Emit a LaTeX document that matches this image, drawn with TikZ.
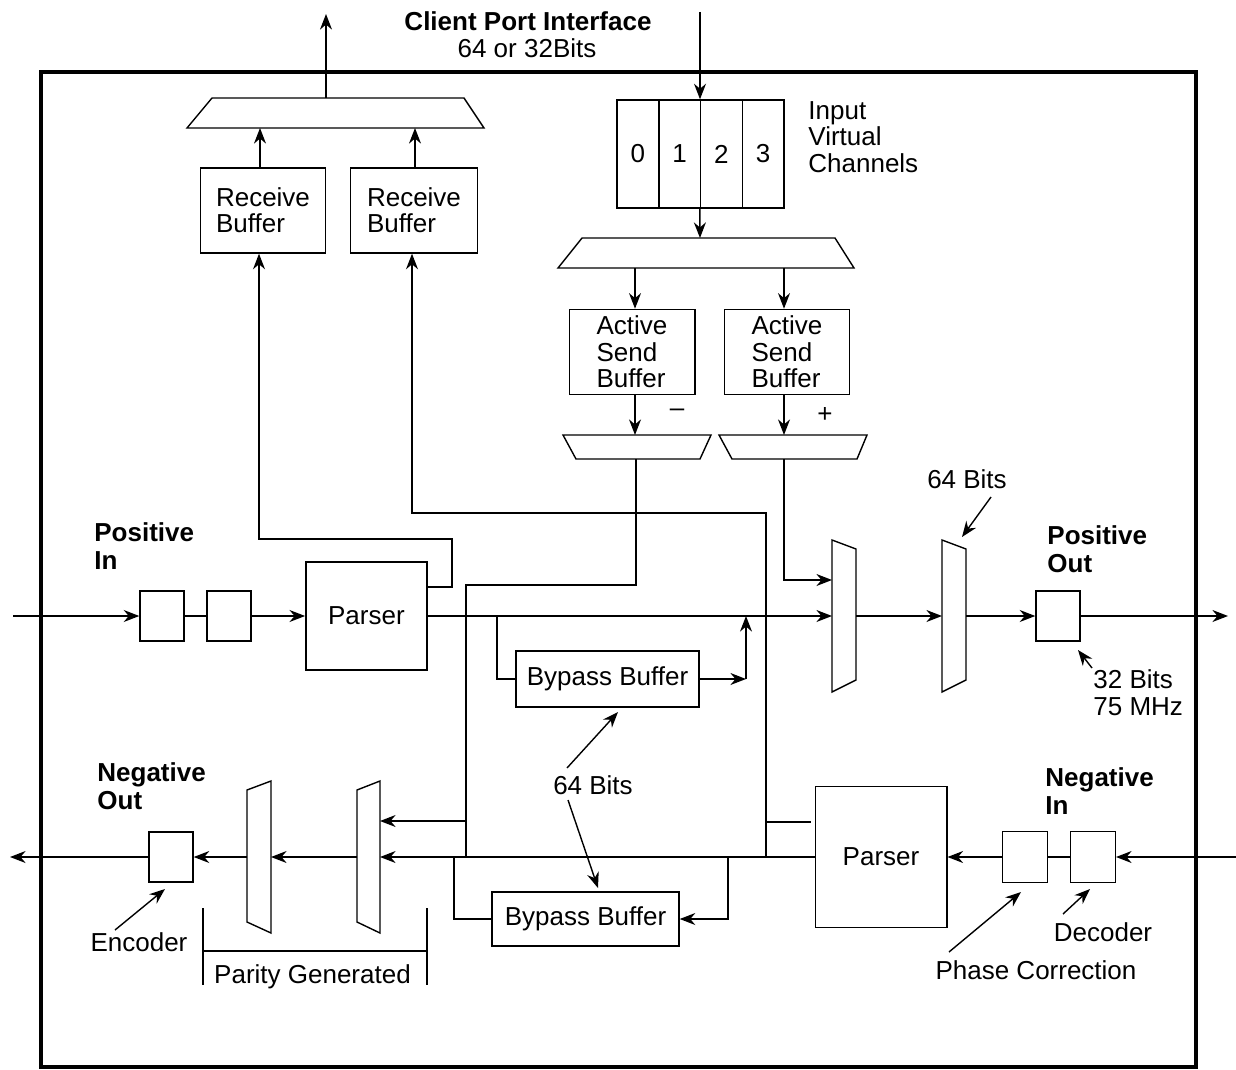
\documentclass[tikz,border=0pt]{standalone}
\usepackage{fontspec}
\setmainfont{Liberation Sans}
\usepackage{tikz}
\usetikzlibrary{arrows.meta,positioning,calc}
\tikzset{
  font=\fontsize{13}{13.2}\selectfont,
  box/.style  ={draw, line width=0.7pt, inner sep=0pt, align=left},
  reg/.style  ={box, minimum width=22pt, minimum height=25pt},
  cell/.style ={box, minimum width=20.9pt, minimum height=54pt},
  mux/.style  ={draw, line width=0.7pt},
  wire/.style ={line width=0.7pt},
  arr/.style  ={-{Stealth[length=7.8pt,width=6pt]}, line width=0.7pt},
  lbl/.style  ={font=\fontsize{13}{14}\selectfont\bfseries, align=left, inner sep=0pt},
  note/.style ={align=left, inner sep=0pt},
}

\begin{document}
\begin{tikzpicture}[x=0.5pt, y=-0.5pt]
  \useasboundingbox (0,0) rectangle (1236,1070);
  % chip outline
  \draw[line width=2pt] (41,72) rectangle (1196,1067);

  % client port interface
  \node[lbl] (cpi) at (528,21) {Client Port Interface};
  \node[note] (cpw) at (527,48) {64 or 32Bits};
  \coordinate (cpout) at (326,14);
  \coordinate (cpin)  at (700,12);

  % receive side
  \draw[mux] (212,98) -- (464,98) -- (484,128) -- (187,128) -- cycle;
  \coordinate (rmux)  at (326,98);
  \coordinate (rmux1) at (260,128);
  \coordinate (rmux2) at (415,128);
  \node[box, minimum width=62.5pt, minimum height=42.5pt] (rb1) at (263,210.5) {Receive\\Buffer};
  \node[box, minimum width=63.5pt, minimum height=42.5pt] (rb2) at (414,210.5) {Receive\\Buffer};
  \draw[arr] (rmux) -- (cpout);
  \draw[arr] (rb1.north -| rmux1) -- (rmux1);
  \draw[arr] (rb2.north -| rmux2) -- (rmux2);

  % send side
  \foreach \i in {0,...,3}
    \node[cell] (vc\i) at (637.9+41.75*\i,154) {\i};
  \node[note, anchor=west] (vcl) at (808,137) {Input\\Virtual\\Channels};
  \draw[mux] (582,238) -- (835,238) -- (854,268) -- (558,268) -- cycle;
  \coordinate (smuxin) at (700,238);
  \coordinate (smux1)  at (635,268);
  \coordinate (smux2)  at (784,268);
  \draw[arr] (cpin) -- (cpin |- vc2.north);
  \draw[arr] (vc2.south west) -- (smuxin);
  \node[box, minimum width=62.8pt, minimum height=42.6pt] (asb1) at (632,352) {Active\\Send\\Buffer};
  \node[box, minimum width=62.6pt, minimum height=42.6pt] (asb2) at (787,352) {Active\\Send\\Buffer};
  \draw[arr] (smux1) -- (smux1 |- asb1.north);
  \draw[arr] (smux2) -- (smux2 |- asb2.north);
  \draw[mux] (563,435) -- (711,435) -- (700,459) -- (576,459) -- cycle;
  \draw[mux] (719,435) -- (867,435) -- (857,459) -- (732,459) -- cycle;
  \coordinate (mmuxi) at (635,435);
  \coordinate (pmuxi) at (784,435);
  \coordinate (mmuxo) at (636,459);
  \coordinate (pmuxo) at (784,459);
  \draw[arr] (asb1.south -| mmuxi) -- (mmuxi);
  \draw[arr] (asb2.south -| pmuxi) -- (pmuxi);
  \node[note] (minus) at (677,413) {\textendash};
  \node[note] (plus)  at (825,415) {+};

  % positive link
  \node[lbl, anchor=west] (posin)  at (94,546)   {Positive\\In};
  \node[lbl, anchor=west] (posout) at (1047,549) {Positive\\Out};
  \coordinate (pin)  at (13,616);
  \coordinate (pend) at (1228,616);
  \node[reg] (in1) at (162,616) {};
  \node[reg] (in2) at (229,616) {};
  \node[box, minimum width=60.6pt, minimum height=54pt] (p1) at (366.4,616) {Parser};
  \node[box, minimum width=91.5pt, minimum height=28pt] (bp1) at (607.5,679) {Bypass Buffer};
  \node[reg] (pout) at (1058,616) {};
  \draw[mux] (832,540) -- (856,549) -- (856,680) -- (832,692) -- cycle;
  \draw[mux] (942,540) -- (966,549) -- (966,680) -- (942,692) -- cycle;
  \coordinate (m1w) at (832,616);
  \coordinate (m1a) at (832,580);
  \coordinate (m1e) at (856,616);
  \coordinate (m2w) at (942,616);
  \coordinate (m2e) at (966,616);
  \draw[arr] (pin) -- (in1);
  \draw[wire] (in1) -- (in2);
  \draw[arr] (in2) -- (p1);
  \draw[arr] (p1) -- (m1w);
  \draw[arr] (m1e) -- (m2w);
  \draw[arr] (m2e) -- (pout);
  \draw[arr] (pout) -- (pend);
  \coordinate (b1) at (497,616);
  \coordinate (b2) at (746,679);
  \draw[wire] (b1) |- (bp1);
  \draw[arr] (bp1) -- (b2);
  \draw[arr] (b2) -- (b2 |- p1);
  \coordinate (q1) at (784,580);
  \draw[arr] (pmuxo) -- (q1) -- (m1a);

  % negative link
  \node[lbl, anchor=west] (negout) at (97,786)   {Negative\\Out};
  \node[lbl, anchor=west] (negin)  at (1045,791) {Negative\\In};
  \coordinate (nin)  at (1236,857);
  \coordinate (nout) at (10,857);
  \node[reg, minimum width=22.3pt, minimum height=25.5pt] (dec) at (1093,857) {};
  \node[reg, minimum width=22.3pt, minimum height=25.5pt] (pc)  at (1025,857) {};
  \node[box, minimum width=65.8pt, minimum height=70.5pt] (p2) at (881,857) {Parser};
  \node[box, minimum width=93.5pt, minimum height=27pt] (bp2) at (585.5,919) {Bypass Buffer};
  \node[reg] (enc) at (171,857) {};
  \draw[mux] (357,790) -- (380,781) -- (380,933) -- (357,922) -- cycle;
  \draw[mux] (247,790) -- (271,781) -- (271,933) -- (247,922) -- cycle;
  \coordinate (m3e) at (380,857);
  \coordinate (m3a) at (380,821);
  \coordinate (m3w) at (357,857);
  \coordinate (m4e) at (271,857);
  \coordinate (m4w) at (247,857);
  \draw[arr] (nin) -- (dec);
  \draw[wire] (dec) -- (pc);
  \draw[arr] (pc) -- (p2);
  \draw[arr] (p2) -- (m3e);
  \draw[arr] (m3w) -- (m4e);
  \draw[arr] (m4w) -- (enc);
  \draw[arr] (enc) -- (nout);
  \coordinate (c1) at (728,857);
  \coordinate (c2) at (454,857);
  \draw[arr] (c1) |- (bp2);
  \draw[wire] (bp2) -| (c2);

  % cross paths
  \coordinate (j1) at (452,587);
  \coordinate (j2) at (452,539);
  \coordinate (j3) at (259,539);
  \draw[arr] (p1.east |- j1) -- (j1) -- (j2) -- (j3) -- (j3 |- rb1.south);
  \coordinate (k1) at (766,857);
  \coordinate (k2) at (766,513);
  \coordinate (k3) at (412,513);
  \coordinate (k4) at (766,822);
  \draw[arr] (k1) -- (k2) -- (k3) -- (k3 |- rb2.south);
  \draw[wire, shorten >=2pt] (k4) -- (k4 -| p2.west);
  \coordinate (n1) at (636,585);
  \coordinate (n2) at (466,585);
  \coordinate (n3) at (466,857);
  \coordinate (n4) at (466,821);
  \draw[wire] (mmuxo) -- (n1) -- (n2) -- (n3);
  \draw[arr] (n4) -- (m3a);

  % annotations
  \node[note] (w1) at (967,479)  {64 Bits};
  \node[note, anchor=west] (w2) at (1093,692.5) {32 Bits\\75 MHz};
  \node[note] (w3) at (593,785)  {64 Bits};
  \node[note] (w4) at (139,942)  {Encoder};
  \node[note] (w5) at (312.5,977) {Parity Generated};
  \node[note] (w6) at (1103,932) {Decoder};
  \node[note] (w7) at (1036,970) {Phase Correction};
  \coordinate (t1s) at (991,497);  \coordinate (t1e) at (962,537);
  \coordinate (t2s) at (1092,668); \coordinate (t2e) at (1078,650);
  \coordinate (t3s) at (567,768);  \coordinate (t3e) at (618,712);
  \coordinate (t4s) at (568,800);  \coordinate (t4e) at (598,888);
  \coordinate (t5s) at (115,930);  \coordinate (t5e) at (165,889);
  \coordinate (t6s) at (1063,914); \coordinate (t6e) at (1090,889);
  \coordinate (t7s) at (949,952);  \coordinate (t7e) at (1021,892);
  \foreach \n in {1,...,7}
    \draw[arr] (t\n s) -- (t\n e);
  \draw[wire] (203,908) -- (203,985) (427,908) -- (427,985) (203,951) -- (427,951);
\end{tikzpicture}
\end{document}
